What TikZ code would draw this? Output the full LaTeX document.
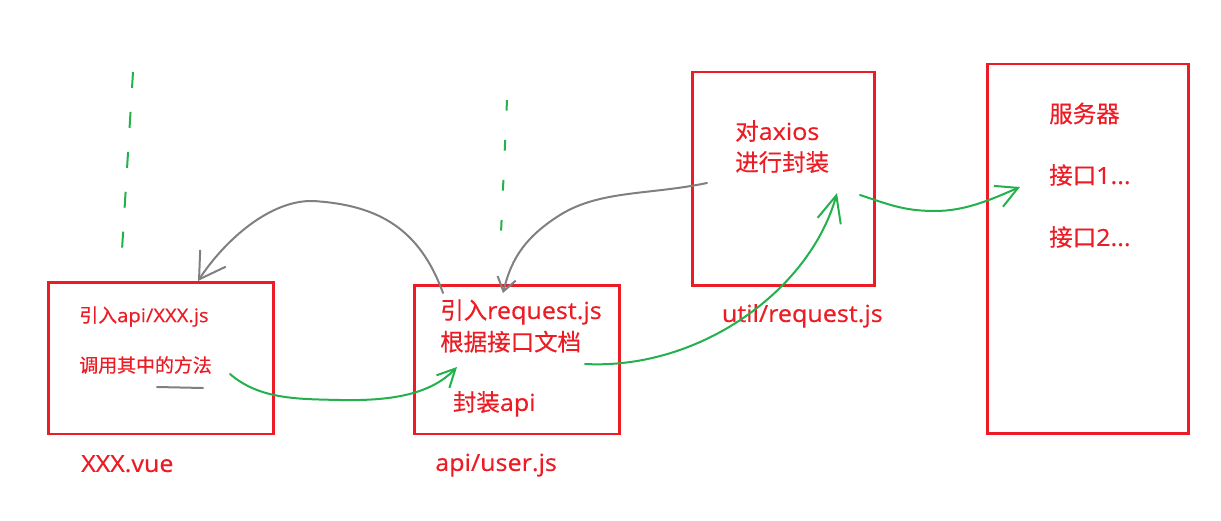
\documentclass[tikz,border=0pt]{standalone}
\usepackage{fontspec}
\setmainfont{Open Sans}[FakeStretch=1.07, FakeBold=0.4]
\newfontfamily\cjk{Noto Sans CJK SC}[FakeBold=0.4]
\usepackage{tikz}
\usetikzlibrary{arrows.meta, fit}

\definecolor{sketchred}{RGB}{237,28,36}
\definecolor{sketchgreen}{RGB}{34,177,76}
\definecolor{sketchgray}{RGB}{128,128,128}

\begin{document}
\begin{tikzpicture}[
                x=0.75pt, y=-0.75pt, % one unit = one pixel of the sketch
                box/.style={draw=sketchred, line width=2pt, inner sep=0pt}, % red file boxes
                smalltext/.style={text=sketchred, anchor=west, inner sep=0pt, text height=12.5pt, text depth=1.7pt, font=\fontsize{14.2}{17}\selectfont},
                bigtext/.style={text=sketchred, anchor=west, inner sep=0pt, text height=15.5pt, text depth=2.1pt, font=\fontsize{17.6}{21}\selectfont},
                flow/.style={draw=sketchgreen, line width=1.5pt, line cap=round}, % green calls
                back/.style={draw=sketchgray, line width=1.5pt, line cap=round}, % gray imports
                guide/.style={draw=sketchgreen, line width=1.5pt} % dashed separators
                ]
                \useasboundingbox[fill=white] (0,0) rectangle (1221,521);

                % boxes
                \node[box, fit={(48.7,282.5) (273.7,434)}] (vue) {};
                \node[box, fit={(414.7,285.3) (619.5,434)}] (api) {};
                \node[box, fit={(692.8,72) (874.5,285.3)}] (util) {};
                \node[box, fit={(987.8,64) (1188.5,433.3)}] (srv) {};

                % texts
                \node[smalltext] (vueimport) at (79,315) {{\cjk 引入}api/XXX.js};
                \node[smalltext] (vuecall) at (79,365) {\cjk 调用其中的方法};
                \node[bigtext] (vuename) at (81,463) {XXX.vue};
                \node[bigtext] (apiimport) at (440,310) {{\cjk 引入}request.js};
                \node[bigtext] (apidoc) at (440,341.7) {\cjk 根据接口文档};
                \node[bigtext] (apiwrap) at (452.7,402) {{\cjk 封装}api};
                \node[bigtext] (apiname) at (435,462) {api/user.js};
                \node[bigtext] (utilaxios) at (735,131) {{\cjk 对}axios};
                \node[bigtext] (utilwrap) at (735,162) {\cjk 进行封装};
                \node[bigtext] (utilname) at (721.7,313) {util/request.js};
                \node[bigtext] (srvname) at (1049,113.5) {\cjk 服务器};
                \node[bigtext] (srvapi1) at (1049,175) {{\cjk 接口}1...};
                \node[bigtext] (srvapi2) at (1049,237) {{\cjk 接口}2...};

                % dashed separators
                \coordinate (guide1top) at (133,72);
                \coordinate (guide1bot) at (122,250);
                \coordinate (guide2top) at (507,100);
                \coordinate (guide2bot) at (501,233);
                \draw[guide, dash pattern=on 12pt off 18pt] (guide1top) -- (guide1bot);
                \draw[guide, dash pattern=on 8pt off 22pt] (guide2top) -- (guide2bot);

                % stroke under the call
                \coordinate (underl) at (157,387);
                \coordinate (underr) at (203,388);
                \draw[back] (underl) -- (underr);

                % gray arrows
                \coordinate (back1from) at (443,293);
                \coordinate (back1to) at (198,281);
                \coordinate (back2from) at (707,183);
                \coordinate (back2to) at (503,293);
                \draw[back, -{Straight Barb[length=19pt, width=23pt]}] (back1from) .. controls (420,230) and (380,205) .. (313,201)
                    .. controls (270,200) and (225,240) .. (back1to);
                \draw[back, -{Straight Barb[length=10pt, width=14pt]}] (back2from) .. controls (650,195) and (600,190) .. (560,215)
                    .. controls (520,240) and (510,265) .. (back2to);

                % green arrows
                \coordinate (flow1from) at (230,374);
                \coordinate (flow1to) at (457,367);
                \coordinate (flow2from) at (585,364);
                \coordinate (flow2to) at (837,193);
                \coordinate (flow3from) at (860,195);
                \coordinate (flow3to) at (1020,187);
                \draw[flow, -{Straight Barb[length=13.5pt, width=13.5pt]}] (flow1from) .. controls (260,400) and (300,399) .. (340,400)
                    .. controls (390,401) and (430,395) .. (flow1to);
                \draw[flow, -{Straight Barb[length=20pt, width=18pt]}] (flow2from) .. controls (700,370) and (810,290) .. (flow2to);
                \draw[flow, -{Straight Barb[length=16pt, width=17pt]}] (flow3from) .. controls (890,205) and (905,211) .. (935,211)
                    .. controls (965,211) and (990,200) .. (flow3to);
            \end{tikzpicture}
\end{document}
